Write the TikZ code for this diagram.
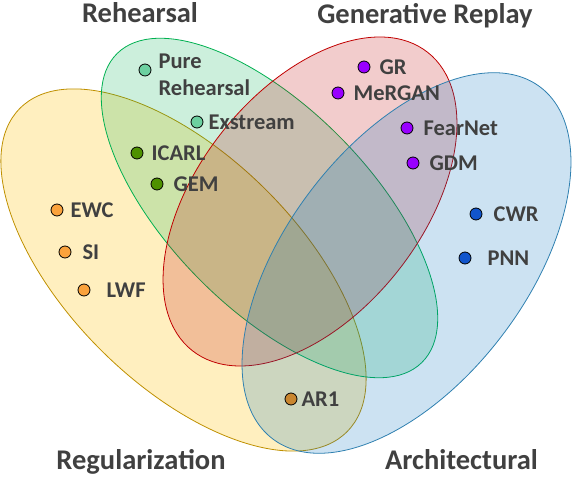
\documentclass[tikz,border=0pt]{standalone}
\usepackage{fontspec}
\setmainfont{Carlito}
\usepackage{tikz}
\usetikzlibrary{positioning}
\definecolor{txtgray}{HTML}{404040}
\definecolor{regfill}{HTML}{FFC000}
\definecolor{regline}{HTML}{BF9000}
\definecolor{rehfill}{HTML}{00B050}
\definecolor{rehline}{HTML}{00B050}
\definecolor{genfill}{HTML}{C00000}
\definecolor{genline}{HTML}{C00000}
\definecolor{arcfill}{HTML}{0070C0}
\definecolor{arcline}{HTML}{2F80B0}
\definecolor{orangedot}{HTML}{FAA23C}
\definecolor{mintdot}{HTML}{6CD0A0}
\definecolor{olivedot}{HTML}{4E9100}
\definecolor{purpledot}{HTML}{9900FF}
\definecolor{bluedot}{HTML}{1155CC}
\definecolor{browndot}{HTML}{C9862F}

\begin{document}
\begin{tikzpicture}[x=1pt, y=1pt,
	dot/.style={circle, draw=black, line width=0.8pt, minimum size=12pt, inner sep=0pt},
	lbl/.style={inner sep=0pt, text depth=0pt, text=txtgray, font=\fontsize{22.5}{27}\selectfont\bfseries},
	ttl/.style={inner sep=0pt, text depth=0pt, text=txtgray, font=\fontsize{28.5}{32}\selectfont\bfseries},
	set/.style={line width=0.8pt, fill opacity=0.2}]
	\useasboundingbox (0,0) rectangle (572,476);
	% the four sets
	\draw [set, draw=regline, fill=regfill, fill opacity=0.25, rotate around={-44.6:(183.5,206)}] (183.5,206) ellipse [x radius=230, y radius=115];
	\draw [set, draw=rehline, fill=rehfill, rotate around={-45.4:(269.5,268)}] (269.5,268) ellipse [x radius=217, y radius=100];
	\draw [set, draw=genline, fill=genfill, rotate around={51.7:(310,274.5)}] (310,274.5) ellipse [x radius=190, y radius=112];
	\draw [set, draw=arcline, fill=arcfill, rotate around={52.7:(406.5,213)}] (406.5,213) ellipse [x radius=221, y radius=120];
	% titles
	\node [ttl] at (140,463) (tReh) {Rehearsal}; \node [ttl] at (425,463) (tGen) {Generative Replay};
	\node [ttl] at (141,16.5) (tReg) {Regularization}; \node [ttl] at (461.5,16.5) (tArc) {Architectural};
	% methods
	\node [dot, fill=mintdot] at (145,406) (dPure) {}; \node [lbl, align=left, right=7pt of dPure, yshift=-4.5pt] (Pure) {Pure\\Rehearsal};
	\node [dot, fill=mintdot] at (197,354) (dExs) {}; \node [lbl, right=5pt of dExs] (Exs) {Exstream};
	\node [dot, fill=olivedot] at (137,323) (dICARL) {}; \node [lbl, right=8pt of dICARL] (ICARL) {ICARL};
	\node [dot, fill=olivedot] at (157,292) (dGEM) {}; \node [lbl, right=10pt of dGEM] (GEM) {GEM};
	\node [dot, fill=orangedot] at (57,266) (dEWC) {}; \node [lbl, right=7pt of dEWC] (EWC) {EWC};
	\node [dot, fill=orangedot] at (65,224) (dSI) {}; \node [lbl, right=11pt of dSI] (SI) {SI};
	\node [dot, fill=orangedot] at (84,186) (dLWF) {}; \node [lbl, right=16pt of dLWF] (LWF) {LWF};
	\node [dot, fill=purpledot] at (364,409) (dGR) {}; \node [lbl, right=9pt of dGR] (GR) {GR};
	\node [dot, fill=purpledot] at (338,383) (dMeRGAN) {}; \node [lbl, right=9pt of dMeRGAN] (MeRGAN) {MeRGAN};
	\node [dot, fill=purpledot] at (407,348) (dFearNet) {}; \node [lbl, right=10pt of dFearNet] (FearNet) {FearNet};
	\node [dot, fill=purpledot] at (413,313) (dGDM) {}; \node [lbl, right=10pt of dGDM] (GDM) {GDM};
	\node [dot, fill=bluedot] at (476,262) (dCWR) {}; \node [lbl, right=11pt of dCWR] (CWR) {CWR};
	\node [dot, fill=bluedot] at (465,218) (dPNN) {}; \node [lbl, right=16pt of dPNN] (PNN) {PNN};
	\node [dot, fill=browndot] at (291,77) (dAR1) {}; \node [lbl, right=4pt of dAR1] (AR1) {AR1};
\end{tikzpicture}
\end{document}
